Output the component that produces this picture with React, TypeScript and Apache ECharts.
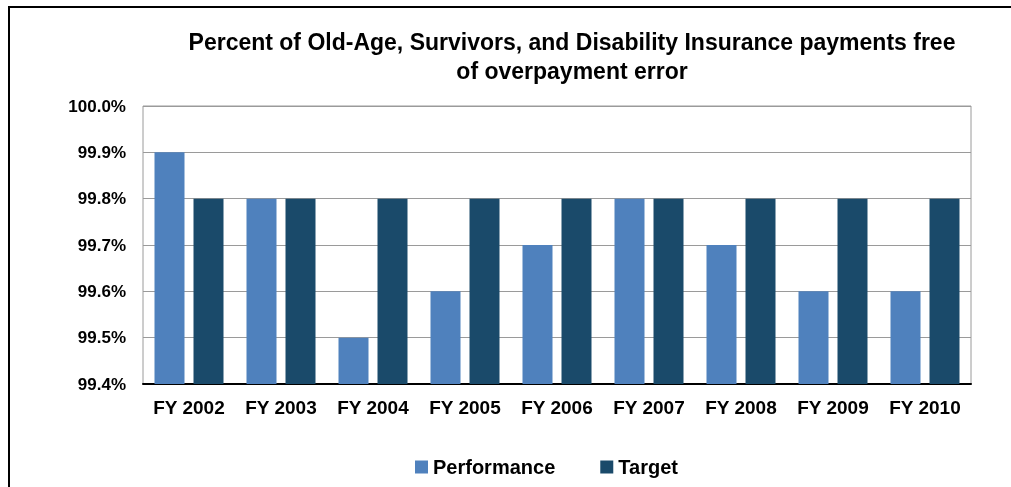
import React, { useEffect, useRef } from "react";
import * as echarts from "echarts";

const categories = ["FY 2002", "FY 2003", "FY 2004", "FY 2005", "FY 2006", "FY 2007", "FY 2008", "FY 2009", "FY 2010"];
const performance = [99.9, 99.8, 99.5, 99.6, 99.7, 99.8, 99.7, 99.6, 99.6];
const target = [99.8, 99.8, 99.8, 99.8, 99.8, 99.8, 99.8, 99.8, 99.8];
const titleLines = ["Percent of Old-Age, Survivors, and Disability Insurance payments free", "of overpayment error"];
const seriesNames = ["Performance", "Target"];

const FONT = "'Liberation Sans', Arial, sans-serif";

export default function App() {
  const ref = useRef<HTMLDivElement>(null);
  useEffect(() => {
    if (!ref.current) return;
    const chart = echarts.init(ref.current, null, { renderer: "svg" });
    chart.setOption({
      animation: false,
      textStyle: { fontFamily: FONT },
      graphic: [
        {
          type: "text",
          x: 572,
          y: 27,
          style: {
            text: titleLines.join("\n"),
            textAlign: "center",
            textVerticalAlign: "top",
            fontFamily: FONT,
            fontWeight: "bold",
            fontSize: 23,
            lineHeight: 29,
            fill: "#000",
          },
        },
      ],
      legend: {
        data: seriesNames,
        left: 410,
        top: 452,
        itemWidth: 13,
        itemHeight: 13,
        itemGap: 45,
        icon: "rect",
        textStyle: { fontFamily: FONT, fontWeight: "bold", fontSize: 20, color: "#000", padding: [0, 0, 0, 0] },
      },
      grid: {
        left: 143,
        top: 106,
        right: 40,
        bottom: 103,
        show: true,
        borderColor: "#9A9A9A",
        borderWidth: 1,
        containLabel: false,
      },
      xAxis: {
        type: "category",
        data: categories,
        axisLine: { show: true, lineStyle: { color: "#000", width: 2 } },
        axisTick: { show: false },
        axisLabel: { fontFamily: FONT, fontWeight: "bold", fontSize: 19, color: "#000", margin: 14, interval: 0 },
      },
      yAxis: {
        type: "value",
        min: 99.4,
        max: 100.0,
        interval: 0.1,
        axisLine: { show: false },
        axisTick: { show: false },
        splitLine: { show: true, lineStyle: { color: "#9A9A9A", width: 1 } },
        axisLabel: {
          fontFamily: FONT,
          fontWeight: "bold",
          fontSize: 17,
          color: "#000",
          margin: 17,
          formatter: (v: number) => v.toFixed(1) + "%",
        },
      },
      series: [
        {
          name: seriesNames[0],
          type: "bar",
          data: performance,
          barWidth: 30,
          barGap: "30%",
          itemStyle: { color: "#4F81BD" },
        },
        {
          name: seriesNames[1],
          type: "bar",
          data: target,
          barWidth: 30,
          barGap: "30%",
          itemStyle: { color: "#1A4A6A" },
        },
      ],
    });
    return () => chart.dispose();
  }, []);
  return (
    <>
      <div
        style={{
          position: "fixed",
          left: 8,
          top: 6,
          width: 1010,
          height: 490,
          borderLeft: "2px solid #000",
          borderTop: "2px solid #000",
          boxSizing: "border-box",
        }}
      />
      <div ref={ref} style={{ position: "fixed", left: 0, top: 0, width: 1011, height: 487 }} />
    </>
  );
}
